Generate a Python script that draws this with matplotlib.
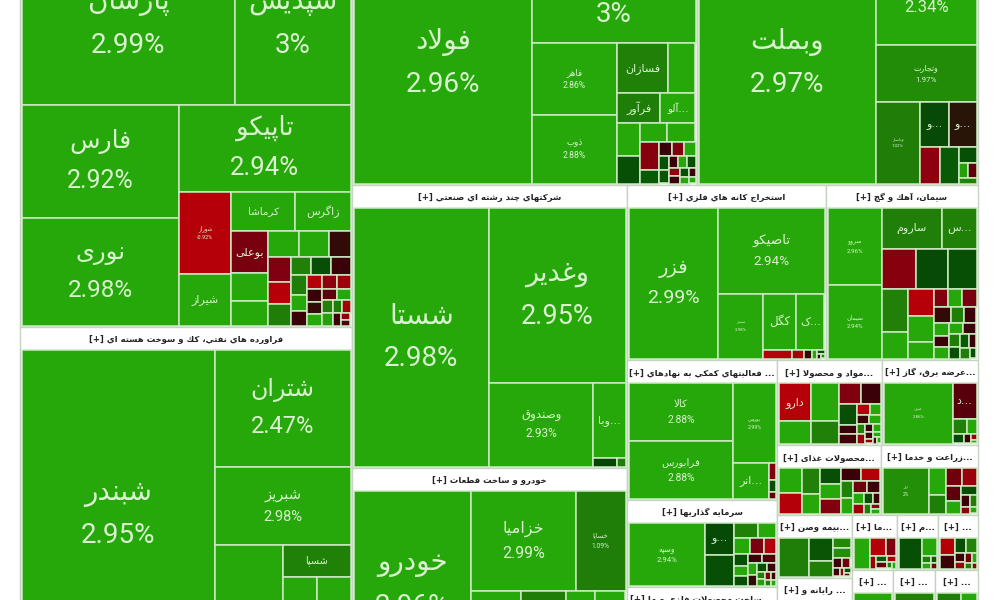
import re
import matplotlib
matplotlib.use('Agg')
import matplotlib.pyplot as plt
from matplotlib.colors import LinearSegmentedColormap, Normalize
from matplotlib.patches import Rectangle

# every sector: names of the labelled tiles, then tile sizes and % change
shimi_names = ['پارسان', 'سپدیس', 'فارس', 'نوری', 'تاپیکو', 'شوراز', 'شیراز', 'کرماشا', 'زاگرس', 'بوعلی']
shimi_sizes = [34500, 18630, 17850, 16900, 14960, 4264, 2704, 2450, 2150, 1560, 1014, 900, 800, 800, 560,
               560, 520, 480, 350, 350, 340, 340, 260, 240, 220, 210, 200, 190, 180, 170, 160, 150, 140, 130, 120, 110, 90, 70, 50]
shimi_pcts = [2.99, 3, 2.92, 2.98, 2.94, -0.92, 2.9, 2.8, 2.85, -0.45, 2.7, 2.6, 2.7, 2.8, -0.08,
              -0.5, -0.95, 1.1, 1.2, 0.2, -0.1, 1.1, 2.6, -0.1, -0.9, -0.6, -0.7, -0.1, -0.08, 2.5, -0.3, 2.4, 1.2, 2.2, 1.1, -0.8, -0.1, -0.6, -0.2]

naft_names = ['شبندر', 'شتران', 'شبریز', '', 'شسپا']
naft_sizes = [63300, 15750, 10550, 9100, 2180, 1200, 1200, 1100, 1000, 900, 800, 600]
naft_pcts = [2.95, 2.47, 2.98, 2.9, 1.3, 2.8, 2.7, 2.5, 2.6, 2.4, 2.7, 2.5]

felez_names = ['فولاد', 'فملی', 'فاهر', 'ذوب', 'فسازان', '', 'فرآور', '...آلو']
felez_sizes = [41600, 15900, 5900, 5650, 2450, 1350, 1230, 1010, 736, 600, 500, 530, 520, 240, 180, 160,
               150, 140, 130, 120, 110, 100, 90, 80, 70, 60, 50, 40]
felez_pcts = [2.96, 3, 2.86, 2.88, 1.2, 2.7, 1.1, 2.6, 2.7, 0.2, 2.7, 2.8, -0.55, 0.3, -0.1, -0.5,
              2.4, 0.2, 0.25, -0.1, 2.5, 0.2, -0.6, -0.1, 0.2, 2.8, -0.1, 2.6]

bank_names = ['وبملت', 'وبصادر', 'وتجارت', 'وپاسار', '...و', '...و']
bank_sizes = [42000, 10100, 5550, 3500, 1300, 1250, 700, 700, 260, 130, 120, 100]
bank_pcts = [2.97, 2.34, 1.97, 1.02, 0.15, -0.06, -0.6, 0.3, 0.2, 2.2, -0.3, 1.4]

sanati_names = ['شستا', 'وغدیر', 'وصندوق', '...وبا']
sanati_sizes = [34300, 23300, 8500, 2400, 190, 70]
sanati_pcts = [2.98, 2.95, 2.93, 2.8, 0.1, 1.0]

khodro_names = ['خودرو', 'خزامیا', 'خساپا']
khodro_sizes = [21200, 10100, 4800, 4200, 2300, 1500, 1400, 1500, 1000, 700, 400]
khodro_pcts = [2.96, 2.99, 1.09, 2.8, 1.0, 2.7, 2.6, 2.5, 0.3, -0.4, 2.7]

kane_names = ['فزر', 'تاصیکو', 'سیدر', 'کگل', '...ک']
kane_sizes = [12700, 8560, 2700, 1760, 1490, 234, 100, 63, 40, 30, 20, 15]
kane_pcts = [2.99, 2.94, 2.98, 2.8, 2.7, -0.9, -0.8, -0.08, 2.3, 0.2, -0.1, 1.2]

siman_names = ['سروو', 'سیمان', 'ساروم', '...س']
siman_sizes = [3975, 3760, 2300, 1330, 1320, 1240, 1080, 1040, 650, 670, 650, 400, 240, 240, 240,
               260, 200, 200, 180, 160, 160, 140, 140, 140, 120, 120, 100, 100, 60]
siman_pcts = [2.96, 2.94, 1.15, 1.2, -0.55, 0.15, 0.2, 1.2, 2.8, -0.95, 2.7, 2.7, -0.5, 2.6, -0.45,
              -0.08, 1.1, -0.1, 2.4, -0.1, 2.3, 2.5, -0.1, 1.1, 0.2, 0.3, -0.1, 1.1, 0.2]

komaki_names = ['کالا', 'فرابورس', 'بورس', '...انر']
komaki_sizes = [5800, 5700, 3230, 1200, 100, 70, 40]
komaki_pcts = [2.88, 2.88, 2.99, 2.8, -0.5, 0.2, -0.3]

sarmaye_names = ['وسپه', '...و']
sarmaye_sizes = [3960, 750, 725, 300, 210, 210, 180, 150, 140, 120, 110, 110, 100, 90, 80, 70, 60, 50, 40, 40, 30, 30, 20]
sarmaye_pcts = [2.94, 0.15, 0.2, 1.2, 2.6, 2.7, -0.45, -0.9, 0.2, 2.3, 0.2, -0.1, -0.2, 2.4, -0.08, 0.2, -0.1, 1.1, 2.2, -0.5, -0.1, 1.0, 2.4]

felezi_names = []
felezi_sizes = [1000]
felezi_pcts = [2.8]

mavad_names = ['دارو']
mavad_sizes = [990, 570, 858, 494, 368, 336, 290, 130, 130, 120, 90, 90, 80, 60, 60, 50, 50, 40, 30, 30, 20, 20]
mavad_pcts = [-0.95, 2.8, 2.7, 1.2, -0.5, -0.1, 0.2, -0.1, -0.15, -0.9, 2.4, -0.1, 2.6, 1.2, -0.7, -0.1, 2.4, -0.1, -0.6, 2.5, -0.2, 2.8]

bargh_names = ['مپین', '...د']
bargh_sizes = [3830, 775, 200, 126, 90, 60, 30, 20]
bargh_pcts = [2.86, -0.25, 1.2, 2.6, 0.15, -0.1, -0.7, 2.8]

ghaza_names = []
ghaza_sizes = [480, 400, 400, 300, 260, 260, 240, 220, 200, 180, 160, 140, 120, 100, 90, 80, 60, 50, 40, 30]
ghaza_pcts = [2.8, -0.9, 1.2, 2.7, 0.2, 2.6, -0.5, -0.1, -0.9, 1.2, 2.7, -0.4, -0.1, 2.4, -0.7, 0.2, -0.1, 1.1, -0.6, 2.5]

zeraat_names = ['زر']
zeraat_sizes = [2100, 450, 300, 280, 250, 220, 180, 150, 100, 80, 60, 40]
zeraat_pcts = [2, 2.7, 1.1, -0.4, -0.7, -0.3, 2.6, 0.2, -0.1, 1.1, -0.6, 2.5]

bime_names = []
bime_sizes = [1120, 530, 345, 160, 160, 80, 80, 50, 40, 30, 20]
bime_pcts = [1.1, 0.25, 1.0, 1.9, 2.0, -0.1, -0.4, -0.1, -0.6, 0.2, -0.3]

ma_names = []
ma_sizes = [456, 264, 150, 70, 60, 60, 40, 30, 20]
ma_pcts = [2.8, -0.95, -0.5, -0.7, 0.3, -0.3, -0.8, 1.1, 2.5]

mim_names = []
mim_sizes = [713, 255, 60, 50, 40, 30]
mim_pcts = [0.2, 2.7, 1.1, 2.4, 0.3, -0.4]

noname_names = []
noname_sizes = [221, 180, 143, 130, 70, 60, 50, 40, 30, 20]
noname_pcts = [-0.9, -0.1, 0.2, 1.5, -0.1, -0.7, -0.4, 2.4, 1.0, -0.6]

rayane_names = []
rayane_sizes = [1000, 600, 400]
rayane_pcts = [2.7, 2.6, 1.2]

sectors = [
    ('محصولات شیمیایی [+]', shimi_names, shimi_sizes, shimi_pcts),
    ('فراورده هاي نفتي، كك و سوخت هسته اي [+]', naft_names, naft_sizes, naft_pcts),
    ('فلزات اساسی [+]', felez_names, felez_sizes, felez_pcts),
    ('بانکها [+]', bank_names, bank_sizes, bank_pcts),
    ('شرکتهاي چند رشته اي صنعتي [+]', sanati_names, sanati_sizes, sanati_pcts),
    ('خودرو و ساخت قطعات [+]', khodro_names, khodro_sizes, khodro_pcts),
    ('استخراج کانه هاي فلزي [+]', kane_names, kane_sizes, kane_pcts),
    ('سیمان، آهك و گچ [+]', siman_names, siman_sizes, siman_pcts),
    ('... فعالیتهاي کمکي به نهادهاي [+]', komaki_names, komaki_sizes, komaki_pcts),
    ('سرمایه گذاریها [+]', sarmaye_names, sarmaye_sizes, sarmaye_pcts),
    ('... ساخت محصولات فلزي و ما [+]', felezi_names, felezi_sizes, felezi_pcts),
    ('...مواد و محصولا [+]', mavad_names, mavad_sizes, mavad_pcts),
    ('...عرضه برق، گاز [+]', bargh_names, bargh_sizes, bargh_pcts),
    ('...محصولات غذای [+]', ghaza_names, ghaza_sizes, ghaza_pcts),
    ('...زراعت و خدما [+]', zeraat_names, zeraat_sizes, zeraat_pcts),
    ('...بیمه وصن [+]', bime_names, bime_sizes, bime_pcts),
    ('... رایانه و [+]', rayane_names, rayane_sizes, rayane_pcts),
    ('...ما [+]', ma_names, ma_sizes, ma_pcts),
    ('...م [+]', mim_names, mim_sizes, mim_pcts),
    ('... [+]', noname_names, noname_sizes, noname_pcts),
]
sector_sizes = [135124, 117196, 91425, 74465, 77825, 58300, 34825, 26600, 21000, 13050, 13950,
                8925, 8160, 7280, 6790, 4725, 7650, 2475, 2255, 2200]
# the last three little sectors and the part under them
tail_sizes = [2665, 2730, 2795]
tail_pcts = [2.7, 1.2, 1.1]
tail_rest = 5670

# label font size in points, name only tiles are listed apart
label_pt = {'پارسان': 20, 'سپدیس': 20, 'شبندر': 20, 'فولاد': 20, 'وبملت': 20, 'شستا': 20, 'خودرو': 20,
            'فملی': 20, 'وغدیر': 19.5, 'فارس': 18, 'نوری': 17.5, 'تاپیکو': 18.5, 'شتران': 17, 'وبصادر': 12,
            'شبریز': 10.5, 'خزامیا': 11.5, 'وصندوق': 8.5, 'تاصیکو': 9.7, 'فزر': 14, 'کالا': 7.4,
            'فرابورس': 7.4, 'فاهر': 6.2, 'ذوب': 6.2, 'وتجارت': 5.8, 'مپین': 3.2, 'وسپه': 5.6, 'خساپا': 4.8,
            'وپاسار': 3.2, 'سروو': 4.4, 'سیمان': 4.4, 'سیدر': 3.2, 'بورس': 3.8, 'شوراز': 4, 'زر': 3.5}
name_only = {'شسپا': 7, 'شیراز': 8, 'کرماشا': 7.5, 'زاگرس': 8, 'بوعلی': 8, 'فسازان': 8, 'فرآور': 8, '...آلو': 7.5,
             'ساروم': 8, 'کگل': 8.5, 'دارو': 8, '...و': 8, '...ک': 8, '...س': 8, '...انر': 8, '...وبا': 8, '...د': 8}

colors = [(-1.2, '#c00010'), (-0.9, '#b40008'), (-0.5, '#80000f'), (-0.1, '#3c0008'), (0.0, '#053a05'),
          (0.3, '#085a05'), (1.0, '#1f7d08'), (1.97, '#228a08'), (2.3, '#27a80a'), (3.0, '#27a80a')]
norm = Normalize(-1.2, 3.0)
cmap = LinearSegmentedColormap.from_list('bourse', [(norm(v), c) for v, c in colors])

# presentation forms: isolated, final, initial, medial
forms = {'ا': 'ﺍﺎ', 'آ': 'ﺁﺂ', 'د': 'ﺩﺪ', 'ذ': 'ﺫﺬ', 'ر': 'ﺭﺮ', 'ز': 'ﺯﺰ', 'ژ': 'ﮊﮋ', 'و': 'ﻭﻮ',
         'ب': 'ﺏﺐﺑﺒ', 'پ': 'ﭖﭗﭘﭙ', 'ت': 'ﺕﺖﺗﺘ', 'ث': 'ﺙﺚﺛﺜ', 'ج': 'ﺝﺞﺟﺠ', 'چ': 'ﭺﭻﭼﭽ', 'ح': 'ﺡﺢﺣﺤ',
         'خ': 'ﺥﺦﺧﺨ', 'س': 'ﺱﺲﺳﺴ', 'ش': 'ﺵﺶﺷﺸ', 'ص': 'ﺹﺺﺻﺼ', 'ض': 'ﺽﺾﺿﻀ', 'ط': 'ﻁﻂﻃﻄ', 'ظ': 'ﻅﻆﻇﻈ',
         'ع': 'ﻉﻊﻋﻌ', 'غ': 'ﻍﻎﻏﻐ', 'ف': 'ﻑﻒﻓﻔ', 'ق': 'ﻕﻖﻗﻘ', 'ك': 'ﻙﻚﻛﻜ', 'ک': 'ﮎﮏﮐﮑ', 'گ': 'ﮒﮓﮔﮕ',
         'ل': 'ﻝﻞﻟﻠ', 'م': 'ﻡﻢﻣﻤ', 'ن': 'ﻥﻦﻧﻨ', 'ه': 'ﻩﻪﻫﻬ', 'ي': 'ﻱﻲﻳﻴ', 'ی': 'ﯼﯽﯾﯿ', 'ئ': 'ﺉﺊﺋﺌ'}


def shape(run):
    out = []
    prev_joins = False
    i = 0
    while i < len(run):
        c = run[i]
        if c not in forms:
            out.append(c)
            prev_joins = False
            i += 1
            continue
        if c == 'ل' and i + 1 < len(run) and run[i + 1] in 'اآ':
            lam = {'ا': 'ﻻﻼ', 'آ': 'ﻵﻶ'}[run[i + 1]]
            out.append(lam[1 if prev_joins else 0])
            prev_joins = False
            i += 2
            continue
        f = forms[c]
        next_ok = len(f) == 4 and i + 1 < len(run) and run[i + 1] in forms
        if prev_joins:
            out.append(f[3] if next_ok else f[1])
        else:
            out.append(f[2] if next_ok else f[0])
        prev_joins = next_ok
        i += 1
    return ''.join(out)[::-1]


def rtl(text):
    parts = re.findall(r'[\u0600-\u06FF ]+|[^\u0600-\u06FF ]+', text)
    return ''.join(shape(p) if re.match(r'[\u0600-\u06FF ]', p) else p for p in parts[::-1])


def worst(row, side):
    s = sum(row)
    return max(side * side * max(row) / (s * s), s * s / (side * side * min(row)))


def squarify(sizes, x, y, w, h):
    k = w * h / sum(sizes)
    areas = [v * k for v in sizes]
    rects = []
    i = 0
    while i < len(areas):
        # nearly square spaces are filled from the left
        across = w >= h * 0.98
        side = h if across else w
        row = [areas[i]]
        j = i + 1
        while j < len(areas) and worst(row + [areas[j]], side) <= worst(row, side):
            row.append(areas[j])
            j += 1
        t = sum(row) / side
        pos = 0
        for a in row:
            if across:
                rects.append((x, y + pos, t, a / t))
            else:
                rects.append((x + pos, y, a / t, t))
            pos += a / t
        if across:
            x += t
            w -= t
        else:
            y += t
            h -= t
        i = j
    return rects


fig = plt.figure(figsize=(10, 6), dpi=100)
ax = fig.add_axes([0, 0, 1, 1])
ax.set_xlim(0, 1000)
ax.set_ylim(600, 0)
ax.axis('off')

HEADER = 23
EDGE = '#cdeac4'


def draw_tiles(names, sizes, pcts, x, y, w, h):
    for i, (tx, ty, tw, th) in enumerate(squarify(sizes, x, y, w, h)):
        ax.add_patch(Rectangle((tx, ty), tw, th, facecolor=cmap(norm(pcts[i])), edgecolor=EDGE, linewidth=1.1))
        name = names[i] if i < len(names) else ''
        if name in name_only:
            ax.text(tx + tw / 2, ty + th / 2, rtl(name), color='#d9f2cf', fontsize=name_only[name],
                    ha='center', va='center', clip_on=True)
        elif name in label_pt:
            pt = label_pt[name]
            off = pt / 0.72 * 0.78
            ax.text(tx + tw / 2, ty + th / 2 - off, rtl(name), color='#d9f2cf', fontsize=pt,
                    ha='center', va='center', clip_on=True)
            ax.text(tx + tw / 2, ty + th / 2 + off, f'{pcts[i]:g}%', color='#d9f2cf', fontsize=pt,
                    family=['Roboto', 'DejaVu Sans'], ha='center', va='center', clip_on=True)


def draw_sector(title, names, sizes, pcts, x, y, w, h):
    ax.add_patch(Rectangle((x, y), w, h, facecolor='white', edgecolor='#c4d4c0', linewidth=1))
    ax.text(x + w / 2, y + HEADER / 2 + 1, rtl(title), color='#222222', fontsize=6.1, weight='bold',
            ha='center', va='center', clip_on=True)
    draw_tiles(names, sizes, pcts, x + 1.5, y + HEADER, w - 3, h - HEADER - 1.5)


# the map starts above the screenshot and runs past its lower edge
root = squarify(sector_sizes + [sum(tail_sizes) + tail_rest], 20, -80, 958, 760)
for (title, names, sizes, pcts), r in zip(sectors, root):
    draw_sector(title, names, sizes, pcts, *r)

tx, ty, tw, th = root[-1]
row_h = th * sum(tail_sizes) / (sum(tail_sizes) + tail_rest)
pos = tx
for v, p in zip(tail_sizes, tail_pcts):
    cw = tw * v / sum(tail_sizes)
    draw_sector('... [+]', [], [3, 1, 1], [p, 2.6, 0.3], pos, ty, cw, row_h)
    pos += cw

fig.savefig('out.png', dpi=100)
